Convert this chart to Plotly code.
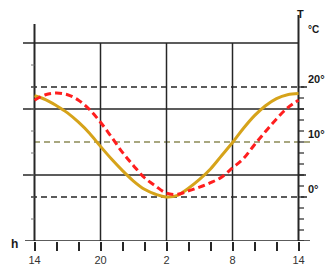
import plotly.graph_objects as go

# ---- data ----
hours = list(range(14, 39))  # 14h .. 14h next day (continuous hours)
yellow_temp = [18.4, 17.7, 16.6, 15.3, 13.6, 11.6, 9.2, 6.9, 4.8, 2.9, 1.4, 0.5, 0.0,
               0.3, 1.6, 3.2, 5.1, 7.5, 9.9, 12.5, 14.8, 16.6, 17.9, 18.6, 18.8]
red_temp = [17.6, 18.6, 18.9, 18.6, 17.6, 15.9, 13.6, 10.9, 8.1, 5.7, 3.5, 2.0, 0.7,
            0.5, 1.1, 1.8, 2.6, 3.6, 5.3, 7.0, 9.5, 11.9, 14.2, 16.2, 17.6]
tick_hours = list(range(14, 39, 2))
tick_text = ['14', '', '', '20', '', '', '2', '', '', '8', '', '', '14']
grid_solid_T = [28, 16, 4]
grid_dashed_T = [20, 10, 0]
vert_hours = [20, 26, 32]
right_label_T = [20, 10, 0]
right_label_text = ['20°', '10°', '0°']
right_ticks_T = list(range(-8, 21, 2))
left_ticks_T = [24, 20, 16, 12, 8, 4, 0, -4]

W, H = 326, 272
PLOT_H = H - 31
PX_H = 11.0   # px per hour
PX_T = 5.5    # px per degree
x0 = 14 - 34.5 / PX_H
x1 = x0 + W / PX_H
y0 = -8
y1 = y0 + PLOT_H / PX_T

def hx(px):
    return x0 + px / PX_H

def ty(px):
    return y1 - px / PX_T

DARK = '#262626'
OLIVE = '#8c8a55'

fig = go.Figure()
fig.add_trace(go.Scatter(x=hours, y=yellow_temp, mode='lines',
                         line=dict(color='#d6a31a', width=3, shape='spline'),
                         hoverinfo='skip', showlegend=False))
fig.add_trace(go.Scatter(x=hours, y=red_temp, mode='lines',
                         line=dict(color='#ff1e1e', width=3, shape='spline', dash='7px,4px'),
                         hoverinfo='skip', showlegend=False))

shapes = []
def line(xa, ya, xb, yb, color=DARK, width=1.5, dash='solid'):
    shapes.append(dict(type='line', xref='x', yref='y', x0=xa, y0=ya, x1=xb, y1=yb,
                       line=dict(color=color, width=width, dash=dash), layer='below'))

# solid horizontal grid
line(hx(23), 28, 38, 28)
line(hx(23), 16, hx(304), 16)
line(hx(23), 4, hx(306), 4)
# dashed horizontal guides
line(hx(31), 20, hx(310), 20, dash='6px,4px')
line(hx(34), 10, hx(310), 10, color=OLIVE, dash='6px,4px')
line(hx(31), 0, hx(310), 0, dash='6px,4px')
# vertical grid
for h in vert_hours:
    line(h, -8, h, 28)
# axes
line(14, -8, 14, ty(24), width=2)
line(38, -8, 38, ty(15), width=2)
line(hx(25), -8, hx(310), -8, width=1.5)
# right ticks
for t in right_ticks_T:
    line(38, t, hx(304), t, width=1.2)
# left ticks
for t in left_ticks_T:
    line(hx(31), t, 14, t, width=1, color='#777')

FONT = 'Liberation Sans, Arial, sans-serif'
annotations = []
def label(px, py, text, size=11, xanchor='left'):
    annotations.append(dict(xref='paper', yref='paper', x=px / W, y=1 - py / PLOT_H,
                            text='<b>%s</b>' % text, showarrow=False,
                            xanchor=xanchor, yanchor='middle',
                            font=dict(family=FONT, size=size, color='#1a1a1a')))

label(300, 14, 'T', size=11, xanchor='center')
label(306, 29, '°C', size=10)
for t, txt in zip(right_label_T, right_label_text):
    annotations.append(dict(xref='x', yref='y', x=hx(306), y=t + 8.5 / PX_T, text='<b>%s</b>' % txt,
                            showarrow=False, xanchor='left', yanchor='middle',
                            font=dict(family=FONT, size=11, color='#1a1a1a')))
label(14, 244, 'h', size=12, xanchor='center')

fig.update_layout(
    width=W, height=H, autosize=False,
    margin=dict(l=0, r=0, t=0, b=31, pad=0),
    paper_bgcolor='white', plot_bgcolor='white',
    showlegend=False,
    shapes=shapes, annotations=annotations,
    xaxis=dict(range=[x0, x1], showgrid=False, zeroline=False, showline=False,
               ticks='outside', ticklen=9, tickwidth=1.5, tickcolor=DARK,
               tickvals=tick_hours, ticktext=tick_text,
               tickfont=dict(family=FONT, size=11, color='#333'),
               fixedrange=True),
    yaxis=dict(range=[y0, y1], visible=False, fixedrange=True),
)
fig.write_html('out.html')
